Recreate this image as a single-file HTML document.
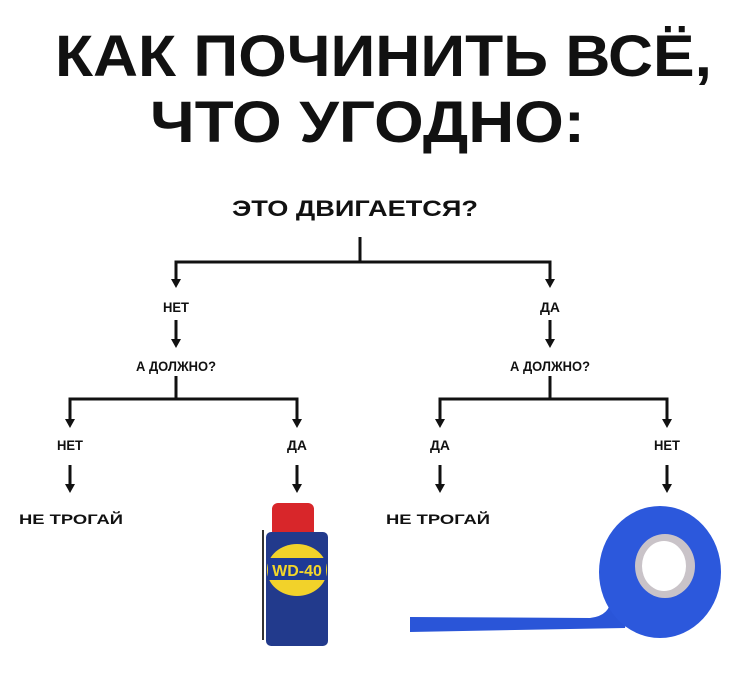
<!DOCTYPE html>
<html><head><meta charset="utf-8"><style>
html,body{margin:0;padding:0;background:#fff;}
svg{display:block}
text{font-family:"Liberation Sans","DejaVu Sans",sans-serif;font-weight:bold;fill:#111}
</style></head><body>
<svg width="736" height="678" viewBox="0 0 736 678" xmlns="http://www.w3.org/2000/svg">
<text x="55" y="76" font-size="58" textLength="657" lengthAdjust="spacingAndGlyphs">КАК ПОЧИНИТЬ ВСЁ,</text>
<text x="150" y="142" font-size="58" textLength="435" lengthAdjust="spacingAndGlyphs">ЧТО УГОДНО:</text>
<text x="232" y="216" font-size="22" textLength="246" lengthAdjust="spacingAndGlyphs">ЭТО ДВИГАЕТСЯ?</text>
<g stroke="#111" stroke-width="3" fill="none">
<line x1="360" y1="237" x2="360" y2="262"/>
<polyline points="176,280 176,262 550,262 550,280"/>
<line x1="176" y1="320" x2="176" y2="340"/>
<line x1="550" y1="320" x2="550" y2="340"/>
<line x1="176" y1="376" x2="176" y2="399"/>
<line x1="550" y1="376" x2="550" y2="399"/>
<polyline points="70,420 70,399 297,399 297,420"/>
<polyline points="440,420 440,399 667,399 667,420"/>
<line x1="70" y1="465" x2="70" y2="485"/>
<line x1="297" y1="465" x2="297" y2="485"/>
<line x1="440" y1="465" x2="440" y2="485"/>
<line x1="667" y1="465" x2="667" y2="485"/>
</g>
<g fill="#111">
<path d="M171,279 h10 l-5,9 z"/><path d="M545,279 h10 l-5,9 z"/>
<path d="M171,339 h10 l-5,9 z"/><path d="M545,339 h10 l-5,9 z"/>
<path d="M65,419 h10 l-5,9 z"/><path d="M292,419 h10 l-5,9 z"/>
<path d="M435,419 h10 l-5,9 z"/><path d="M662,419 h10 l-5,9 z"/>
<path d="M65,484 h10 l-5,9 z"/><path d="M292,484 h10 l-5,9 z"/>
<path d="M435,484 h10 l-5,9 z"/><path d="M662,484 h10 l-5,9 z"/>
</g>
<g font-size="14" text-anchor="middle">
<text x="176" y="312" textLength="26" lengthAdjust="spacingAndGlyphs">НЕТ</text><text x="550" y="312" textLength="20" lengthAdjust="spacingAndGlyphs">ДА</text>
<text x="176" y="371" textLength="80" lengthAdjust="spacingAndGlyphs">А ДОЛЖНО?</text><text x="550" y="371" textLength="80" lengthAdjust="spacingAndGlyphs">А ДОЛЖНО?</text>
<text x="70" y="450" textLength="26" lengthAdjust="spacingAndGlyphs">НЕТ</text><text x="297" y="450" textLength="20" lengthAdjust="spacingAndGlyphs">ДА</text>
<text x="440" y="450" textLength="20" lengthAdjust="spacingAndGlyphs">ДА</text><text x="667" y="450" textLength="26" lengthAdjust="spacingAndGlyphs">НЕТ</text>
<text x="71" y="524" textLength="104" lengthAdjust="spacingAndGlyphs">НЕ ТРОГАЙ</text><text x="438" y="524" textLength="104" lengthAdjust="spacingAndGlyphs">НЕ ТРОГАЙ</text>
</g>
<!-- WD-40 can -->
<rect x="272" y="503" width="42" height="34" rx="6" fill="#d8262a"/>
<rect x="266" y="532" width="62" height="114" rx="5" fill="#223a8c"/>
<ellipse cx="297" cy="570" rx="30" ry="26" fill="#f2d22a"/>
<rect x="268" y="558" width="58" height="22" fill="#1e3a96"/>
<text x="297" y="576" font-size="16" text-anchor="middle" style="fill:#f3d62a">WD-40</text>
<line x1="263" y1="530" x2="263" y2="640" stroke="#333" stroke-width="2"/>
<!-- tape -->
<path d="M410,617 L590,618 Q615,615 610,590 L630,600 L625,628 L410,632 Z" fill="#2a55d8"/>
<ellipse cx="660" cy="572" rx="61" ry="66" fill="#2c58dc"/>
<ellipse cx="665" cy="566" rx="30" ry="32" fill="#c9c3c8"/>
<ellipse cx="664" cy="566" rx="22" ry="25" fill="#fff"/>
</svg>
</body></html>
